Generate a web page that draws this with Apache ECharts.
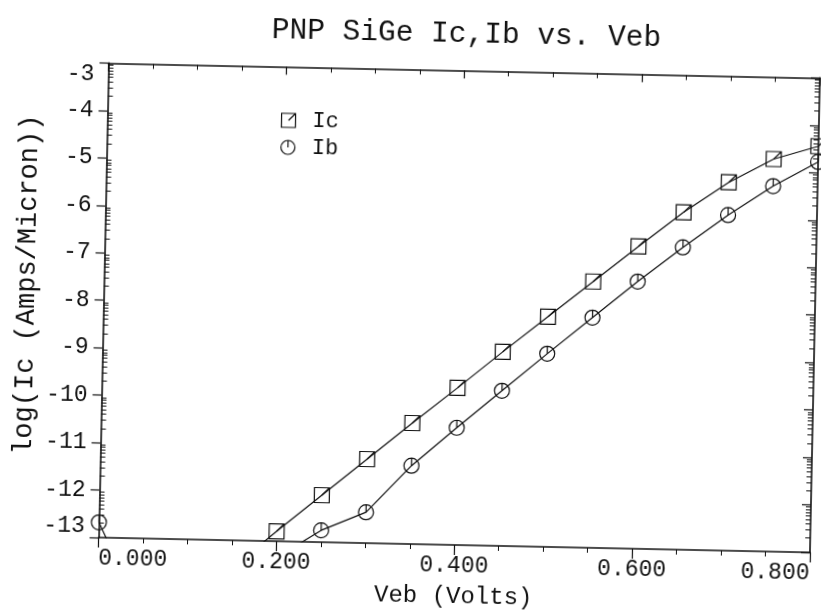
<!DOCTYPE html>
<html>
<head>
<meta charset="utf-8">
<title>PNP SiGe Ic,Ib vs. Veb</title>
<script src="https://cdn.jsdelivr.net/npm/echarts@6/dist/echarts.min.js"></script>
<style>
  html, body { margin: 0; padding: 0; background: #fff; overflow: hidden; }
  #chart { width: 821px; height: 614px; transform: rotate(1.2deg); transform-origin: 50% 50%; }
</style>
</head>
<body>
<div id="chart"></div>
<script>
// Emitter-base voltage sweep (V)
const veb = [0.00, 0.05, 0.10, 0.15, 0.20, 0.25, 0.30, 0.35, 0.40, 0.45, 0.50, 0.55, 0.60, 0.65, 0.70, 0.75, 0.80];
// log10 of collector current (A/um); values under -13 fall off the plot
const icLog = [null, null, null, -13.6, -12.79, -12.01, -11.23, -10.45, -9.69, -8.91, -8.15, -7.39, -6.63, -5.89, -5.24, -4.73, -4.44];
// log10 of base current (A/um)
const ibLog = [-12.68, -14.6, -14.4, -14.0, -13.35, -12.75, -12.35, -11.35, -10.53, -9.73, -8.93, -8.15, -7.37, -6.63, -5.93, -5.30, -4.77];

const seriesNames = ['Ic', 'Ib'];
const yMajor = [-13, -12, -11, -10, -9, -8, -7, -6, -5, -4, -3];

// log-decade minor ticks (2..9 within each decade)
const yMinor = [];
for (let d = -13; d < -3; d++) {
  for (let k = 2; k <= 9; k++) yMinor.push(d + Math.log10(k));
}

const FONT = "'Liberation Mono', 'Courier New', monospace";
const INK = '#111';

// plotting glyphs: square with a stroke to its corner, circle with a stroke from the top
const squareSym = 'path://M0,0H10V10H0Z M5,5L10,0';
const circleSym = 'path://M5,0A5,5,0,0,1,5,10A5,5,0,0,1,5,0Z M5,0L5,5';

const chart = echarts.init(document.getElementById('chart'), null, { renderer: 'canvas' });

const hollow = { color: 'rgba(0,0,0,0)', borderColor: INK, borderWidth: 1.2 };

function yAxisBase(pos) {
  return {
    type: 'value', min: -13, max: -3, interval: 1, position: pos,
    splitLine: { show: false },
    axisLine: { show: true, lineStyle: { color: INK, width: 1.6 } }
  };
}

chart.setOption({
  animation: false,
  backgroundColor: '#fff',
  title: {
    text: 'PNP SiGe Ic,Ib vs. Veb',
    left: 266, top: 18, padding: 0,
    textStyle: { fontFamily: FONT, fontSize: 29.5, fontWeight: 'normal', color: INK }
  },
  legend: {
    orient: 'vertical', left: 272, top: 107, itemGap: 5,
    itemWidth: 14, itemHeight: 14,
    data: [{ name: seriesNames[0], icon: squareSym }, { name: seriesNames[1], icon: circleSym }],
    itemStyle: hollow,
    textStyle: { fontFamily: FONT, fontSize: 22, color: INK, padding: [0, 0, 0, 12] },
    selectedMode: false
  },
  grid: { left: 103.5, right: 6, top: 69.4, bottom: 70, outerBoundsMode: 'none' },
  xAxis: [
    {
      type: 'value', min: 0, max: 0.8, interval: 0.2, position: 'bottom',
      name: 'Veb (Volts)', nameLocation: 'middle', nameGap: 40, nameMoveOverlap: false,
      nameTextStyle: { fontFamily: FONT, fontSize: 24, color: INK },
      splitLine: { show: false },
      axisLine: { lineStyle: { color: INK, width: 1.6 } },
      axisTick: { length: 10, lineStyle: { color: INK, width: 1.2 } },
      minorTick: { show: true, splitNumber: 4, length: 5, lineStyle: { color: INK, width: 1 } },
      axisLabel: {
        fontFamily: FONT, fontSize: 23, color: INK, margin: 9,
        alignMinLabel: 'left', alignMaxLabel: 'right',
        formatter: v => v.toFixed(3)
      }
    },
    {
      type: 'value', min: 0, max: 0.8, interval: 0.2, position: 'top',
      splitLine: { show: false },
      axisLine: { show: true, lineStyle: { color: INK, width: 1.6 } },
      axisTick: { inside: true, length: 8, lineStyle: { color: INK, width: 1.2 } },
      minorTick: { show: true, splitNumber: 4, length: 5, lineStyle: { color: INK, width: 1 } },
      axisLabel: { show: false }
    }
  ],
  yAxis: [
    Object.assign(yAxisBase('left'), {
      name: 'log(Ic (Amps/Micron))', nameLocation: 'middle', nameGap: 63, nameMoveOverlap: false,
      nameTextStyle: { fontFamily: FONT, fontSize: 27, color: INK, padding: [0, 0, 0, 28] },
      axisTick: { length: 9, lineStyle: { color: INK, width: 1.2 } },
      axisLabel: {
        fontFamily: FONT, fontSize: 23, color: INK, margin: 14,
        verticalAlignMinLabel: 'bottom', verticalAlignMaxLabel: 'top',
        customValues: yMajor
      }
    }),
    Object.assign(yAxisBase('left'), {
      axisLine: { show: false },
      axisTick: { inside: true, length: 5, customValues: yMinor, lineStyle: { color: INK, width: 1 } },
      axisLabel: { show: false }
    }),
    Object.assign(yAxisBase('right'), {
      axisTick: { inside: true, length: 9, lineStyle: { color: INK, width: 1.2 } },
      axisLabel: { show: false }
    }),
    Object.assign(yAxisBase('right'), {
      axisLine: { show: false },
      axisTick: { inside: true, length: 5, customValues: yMinor, lineStyle: { color: INK, width: 1 } },
      axisLabel: { show: false }
    })
  ],
  series: [
    {
      name: seriesNames[0], type: 'line', xAxisIndex: 0, yAxisIndex: 0,
      data: veb.map((v, i) => [v, icLog[i]]),
      symbol: squareSym, symbolSize: 15, showAllSymbol: true, clip: true,
      lineStyle: { color: INK, width: 1.2 }, itemStyle: hollow,
      emphasis: { disabled: true }
    },
    {
      name: seriesNames[1], type: 'line', xAxisIndex: 0, yAxisIndex: 0,
      data: veb.map((v, i) => [v, ibLog[i]]),
      symbol: circleSym, symbolSize: 15, showAllSymbol: true, clip: true,
      lineStyle: { color: INK, width: 1.2 }, itemStyle: hollow,
      emphasis: { disabled: true }
    }
  ]
});
</script>
</body>
</html>
